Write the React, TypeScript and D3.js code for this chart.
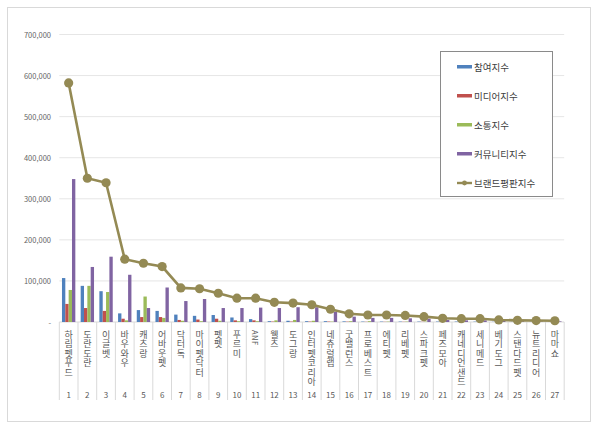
import React from 'react';
import * as d3 from 'd3';

// brand names, rank order
const brands = [
  '하림펫푸드', '도란도란', '이글벳', '바우와우', '캐츠랑', '어바웃펫', '닥터독',
  '마이펫닥터', '펫펫', '푸르미', 'ANF', '웰츠', '도그랑', '인터펫코리아',
  '네츄럴랩', '굿밸런스', '프로베스트', '에티펫', '리베펫', '스파크펫', '페즈모아',
  '캐네디언샌드', '세니메드', '베기도그', '스탠다드펫', '뉴트리디어', '마마쇼',
];

const participation = [107000, 88000, 75000, 21000, 29000, 27000, 18000, 15000, 17000, 11000, 7000, 2000, 3000, 2000, 2000, 1500, 1000, 1000, 1000, 1000, 1000, 1000, 800, 500, 500, 500, 500];
const media = [44000, 34000, 27000, 8000, 12000, 12000, 5000, 6000, 8000, 4000, 4000, 1000, 1000, 1000, 1000, 800, 500, 500, 500, 500, 500, 500, 500, 300, 300, 300, 300];
const communication = [78000, 88000, 73000, 4000, 62000, 10000, 3000, 2000, 3000, 2000, 2000, 4000, 5000, 3000, 1000, 2000, 2000, 1000, 1000, 1000, 1000, 1000, 800, 500, 500, 500, 500];
const community = [348000, 134000, 159000, 115000, 34000, 84000, 51000, 56000, 34000, 34000, 35000, 34000, 36000, 36000, 25000, 13000, 10000, 10000, 9000, 8000, 5000, 4000, 4000, 2500, 2000, 1500, 1500];
const brandIndex = [582000, 350000, 339000, 153000, 143000, 135000, 83000, 81000, 70000, 58000, 58000, 48000, 46000, 42000, 31000, 20000, 17000, 17000, 16000, 13000, 9000, 8000, 8000, 5000, 4000, 3500, 3000];

const barSeries = [
  { name: '참여지수', color: '#4F81BD', values: participation },
  { name: '미디어지수', color: '#C0504D', values: media },
  { name: '소통지수', color: '#9BBB59', values: communication },
  { name: '커뮤니티지수', color: '#8064A2', values: community },
];
const lineName = '브랜드평판지수';
const lineColor = '#948A54';

const yTicks = [0, 100000, 200000, 300000, 400000, 500000, 600000, 700000];

const W = 600;
const H = 430;
const left = 59.3;
const right = 564.2;
const top = 34.5;
const bottom = 322;

const font = '"Noto Sans CJK KR", "Noto Sans", sans-serif';

export default function App() {
  const x = d3.scaleBand<string>().domain(brands).range([left, right]).padding(0);
  const bw = x.bandwidth();
  const sub = d3
    .scaleBand<string>()
    .domain(barSeries.map(s => s.name))
    .range([0, bw])
    .paddingInner(0)
    .paddingOuter(0.8);
  const y = d3.scaleLinear().domain([0, 700000]).range([bottom, top]);
  const fmt = d3.format(',');

  const cx = (b: string) => (x(b) ?? 0) + bw / 2;
  const line = d3
    .line<number>()
    .x((_, i) => cx(brands[i]))
    .y(d => y(d));

  return (
    <svg
      width={W}
      height={H}
      style={{ position: 'absolute', left: 0, top: 0, background: '#fff' }}
      fontFamily={font}
    >
      <rect x={0} y={0} width={W} height={H} fill="#fff" />
      <rect x={7.5} y={7.5} width={583} height={414} fill="none" stroke="#d9d9d9" />

      {/* gridlines + y labels */}
      {yTicks.map(t => (
        <g key={t}>
          <line x1={left} x2={right} y1={y(t)} y2={y(t)} stroke={t === 0 ? '#d9d9d9' : '#e6e6e6'} />
          <text x={51} y={y(t)} textAnchor="end" dominantBaseline="central" fontSize={7.5} fill="#666">
            {t === 0 ? '-' : fmt(t)}
          </text>
        </g>
      ))}

      {/* category separators */}
      {brands.map(b => (
        <line key={b} x1={x(b)} x2={x(b)} y1={bottom} y2={400} stroke="#d9d9d9" />
      ))}
      <line x1={right} x2={right} y1={bottom} y2={400} stroke="#d9d9d9" />

      {/* bars */}
      {barSeries.map(s => (
        <g key={s.name} fill={s.color}>
          {s.values.map((v, i) => (
            <rect
              key={i}
              x={(x(brands[i]) ?? 0) + (sub(s.name) ?? 0)}
              y={y(v)}
              width={sub.bandwidth()}
              height={y(0) - y(v)}
            />
          ))}
        </g>
      ))}

      {/* brand index line */}
      <path d={line(brandIndex) ?? ''} fill="none" stroke={lineColor} strokeWidth={2.6} />
      {brandIndex.map((v, i) => (
        <circle key={i} cx={cx(brands[i])} cy={y(v)} r={4.6} fill={lineColor} />
      ))}

      {/* x labels: vertical text */}
      {brands.map((b, i) => (
        <g key={b} fill="#595959">
          <text
            x={cx(b)}
            y={330}
            fontSize={/^[A-Za-z]+$/.test(b) ? 7.5 : 9}
            style={{ writingMode: 'vertical-rl', letterSpacing: '0.5px' }}
          >
            {b}
          </text>
          <text x={cx(b)} y={394} textAnchor="middle" dominantBaseline="central" fontSize={8}>
            {i + 1}
          </text>
        </g>
      ))}

      {/* legend */}
      <rect x={440.5} y={51.5} width={112} height={145} fill="#fff" stroke="#8a8a8a" />
      {barSeries.map((s, i) => (
        <g key={s.name}>
          <rect x={457} y={65 + i * 29} width={15} height={3.5} fill={s.color} />
          <text x={474} y={67 + i * 29} dominantBaseline="central" fontSize={9.5} fill="#404040">
            {s.name}
          </text>
        </g>
      ))}
      <g>
        <line x1={457} x2={472} y1={183} y2={183} stroke={lineColor} strokeWidth={2.4} />
        <circle cx={464.5} cy={183} r={2.4} fill={lineColor} />
        <text x={474} y={183} dominantBaseline="central" fontSize={9.5} fill="#404040">
          {lineName}
        </text>
      </g>
    </svg>
  );
}
